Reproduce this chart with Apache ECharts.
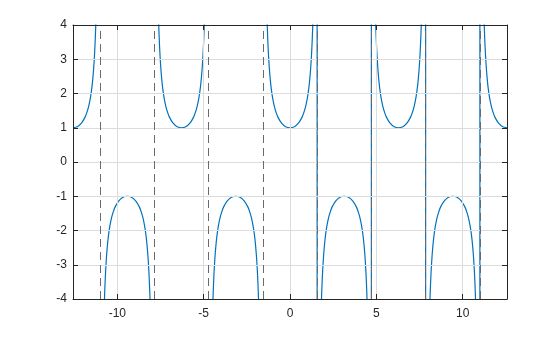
<!DOCTYPE html>
<html>
<head>
<meta charset="utf-8">
<script src="https://cdn.jsdelivr.net/npm/echarts@6/dist/echarts.min.js"></script>
<style>html,body{margin:0;padding:0;background:#fff}#c{width:560px;height:337px}</style>
</head>
<body>
<div id="c"></div>
<script>
// Axis range (x from -4π to 4π)
var xRange = [-12.566, 12.566];
var yRange = [-4, 4];
var xTicks = [-10, -5, 0, 5, 10];
var yTicks = [-4, -3, -2, -1, 0, 1, 2, 3, 4];

// One branch of the curve: offset from branch centre -> value
var branchOffsets = [-1.34, -1.318, -1.30, -1.28, -1.25, -1.20, -1.15, -1.10, -1.05, -1.00, -0.90, -0.80, -0.70, -0.50, -0.25, 0,
                      0.25, 0.50, 0.70, 0.80, 0.90, 1.00, 1.05, 1.10, 1.15, 1.20, 1.25, 1.28, 1.30, 1.318, 1.34];
var branchValues  = [4.37, 4.00, 3.74, 3.49, 3.17, 2.76, 2.45, 2.20, 2.01, 1.85, 1.61, 1.44, 1.31, 1.14, 1.03, 1,
                      1.03, 1.14, 1.31, 1.44, 1.61, 1.85, 2.01, 2.20, 2.45, 2.76, 3.17, 3.49, 3.74, 4.00, 4.37];

// Branch centres: upward branches (minimum at +1) and downward branches (maximum at -1)
var upCenters = [-12.566, -6.283, 0, 6.283, 12.566];
var downCenters = [-9.425, -3.142, 3.142, 9.425];

// Dashed asymptote lines
var asymptotes = [-10.996, -7.854, -4.712, -1.571, 1.571, 4.712, 7.854, 10.996];
// Solid vertical jumps drawn by the curve on the positive side
var jumps = [1.571, 4.712, 7.854, 10.996];

var BLUE = '#0072BD';
var series = [];

function branch(c, sign) {
  var d = [];
  for (var i = 0; i < branchOffsets.length; i++) {
    var x = c + branchOffsets[i];
    if (x < xRange[0] - 0.001 || x > xRange[1] + 0.001) continue;
    d.push([x, sign * branchValues[i]]);
  }
  return d;
}

// grid lines (interior only; edges are the axis box)
series.push({
  type: 'line', data: [], z: 1, silent: true,
  markLine: {
    silent: true, symbol: 'none', animation: false, label: {show: false},
    lineStyle: {color: '#dcdcdc', width: 1, type: 'solid'},
    data: xTicks.filter(function (v) { return v > xRange[0] && v < xRange[1]; })
            .map(function (v) { return {xAxis: v}; }).concat(
          yTicks.filter(function (v) { return v > yRange[0] && v < yRange[1]; })
            .map(function (v) { return {yAxis: v}; }))
  }
});

upCenters.forEach(function (c) {
  series.push({type: 'line', data: branch(c, 1), smooth: 0.3, symbol: 'none', z: 3,
    lineStyle: {color: BLUE, width: 1.2}, clip: true});
});
downCenters.forEach(function (c) {
  series.push({type: 'line', data: branch(c, -1), smooth: 0.3, symbol: 'none', z: 3,
    lineStyle: {color: BLUE, width: 1.2}, clip: true});
});
jumps.forEach(function (a) {
  series.push({type: 'line', data: [[a, 4.5], [a, -4.5]], symbol: 'none', z: 3,
    lineStyle: {color: BLUE, width: 1.2}, clip: true});
});

// asymptotes
series.push({
  type: 'line', data: [], z: 4, silent: true,
  markLine: {
    silent: true, symbol: 'none', animation: false, label: {show: false},
    lineStyle: {color: '#6a6a6a', width: 1, type: [8, 5]},
    data: asymptotes.map(function (v) { return {xAxis: v}; })
  }
});

var axisCol = '#262626';
var labelFont = {color: axisCol, fontSize: 12, fontFamily: 'Liberation Sans, Arial, sans-serif'};

var chart = echarts.init(document.getElementById('c'), null, {renderer: 'canvas'});
chart.setOption({
  animation: false,
  backgroundColor: '#fff',
  grid: {left: 73, right: 53, top: 25, bottom: 38, containLabel: false},
  xAxis: [{
    type: 'value', min: xRange[0], max: xRange[1], position: 'bottom', z: 10,
    axisLine: {show: true, onZero: false, lineStyle: {color: axisCol, width: 1}},
    axisTick: {show: true, inside: true, length: 5, customValues: xTicks, lineStyle: {color: axisCol}},
    axisLabel: Object.assign({show: true, margin: 9, customValues: xTicks}, labelFont),
    splitLine: {show: false}
  }, {
    type: 'value', min: xRange[0], max: xRange[1], position: 'top', z: 10,
    axisLine: {show: true, onZero: false, lineStyle: {color: axisCol, width: 1}},
    axisTick: {show: true, inside: true, length: 5, customValues: xTicks, lineStyle: {color: axisCol}},
    axisLabel: {show: false},
    splitLine: {show: false}
  }],
  yAxis: [{
    type: 'value', min: yRange[0], max: yRange[1], interval: 1, position: 'left', z: 10,
    axisLine: {show: true, onZero: false, lineStyle: {color: axisCol, width: 1}},
    axisTick: {show: true, inside: true, length: 5, lineStyle: {color: axisCol}},
    axisLabel: Object.assign({show: true, margin: 6}, labelFont),
    splitLine: {show: false}
  }, {
    type: 'value', min: yRange[0], max: yRange[1], interval: 1, position: 'right', z: 10,
    axisLine: {show: true, onZero: false, lineStyle: {color: axisCol, width: 1}},
    axisTick: {show: true, inside: true, length: 5, lineStyle: {color: axisCol}},
    axisLabel: {show: false},
    splitLine: {show: false}
  }],
  series: series
});
</script>
</body>
</html>
